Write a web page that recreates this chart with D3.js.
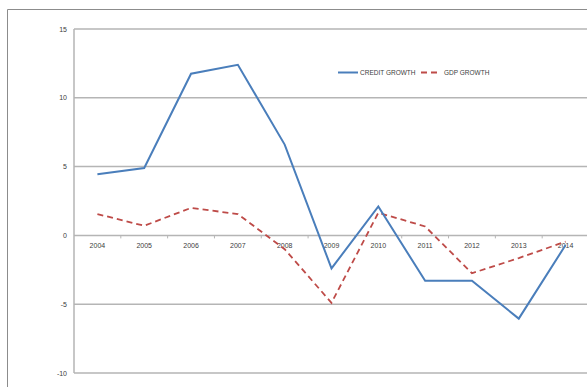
<!DOCTYPE html>
<html>
<head>
<meta charset="utf-8">
<script src="https://cdn.jsdelivr.net/npm/d3@7"></script>
<style>
  body { margin: 0; background: #fff; }
  svg { display: block; font-family: "Liberation Sans", Arial, sans-serif; }
</style>
</head>
<body>
<svg width="587" height="387"></svg>
<script>
// chart data
const years = ["2004", "2005", "2006", "2007", "2008", "2009", "2010", "2011", "2012", "2013", "2014"];
const creditGrowth = [4.45, 4.9, 11.75, 12.4, 6.6, -2.4, 2.1, -3.3, -3.3, -6.05, -0.7];
const gdpGrowth = [1.55, 0.7, 2.0, 1.55, -1.0, -4.9, 1.65, 0.65, -2.75, -1.65, -0.45];
const yTicks = [-10, -5, 0, 5, 10, 15];

const svg = d3.select("svg");

// outer chart frame (runs off the right and bottom of the picture)
svg.append("path")
    .attr("d", "M7.5,400 L7.5,9.5 L600,9.5")
    .attr("fill", "none")
    .attr("stroke", "#8c8c8c")
    .attr("stroke-width", 1);

const x = d3.scaleBand().domain(years).range([74, 589]).padding(0);
const y = d3.scaleLinear().domain([-10, 15]).range([373, 29]);
const cx = d => x(d) + x.bandwidth() / 2;

// horizontal gridlines
svg.append("g")
    .selectAll("line")
    .data(yTicks)
    .join("line")
    .attr("x1", 74)
    .attr("x2", 600)
    .attr("y1", d => y(d))
    .attr("y2", d => y(d))
    .attr("stroke", "#b5b5b5")
    .attr("stroke-width", 1.5);

// vertical axis line
svg.append("line")
    .attr("x1", 74).attr("x2", 74)
    .attr("y1", y(15)).attr("y2", y(-10))
    .attr("stroke", "#b5b5b5")
    .attr("stroke-width", 1.5);

// y tick labels
svg.append("g")
    .selectAll("text")
    .data(yTicks)
    .join("text")
    .attr("x", 67)
    .attr("y", d => y(d) + 2.5)
    .attr("text-anchor", "end")
    .attr("font-size", "7px")
    .attr("fill", "#404040")
    .text(d => d);

// category tick marks on the zero line
svg.append("g")
    .selectAll("line")
    .data(years.slice(1))
    .join("line")
    .attr("x1", d => x(d))
    .attr("x2", d => x(d))
    .attr("y1", y(0))
    .attr("y2", y(0) + 3)
    .attr("stroke", "#b5b5b5")
    .attr("stroke-width", 1);

// x labels sit just under the zero line
svg.append("g")
    .selectAll("text")
    .data(years)
    .join("text")
    .attr("x", d => cx(d))
    .attr("y", y(0) + 13)
    .attr("text-anchor", "middle")
    .attr("font-size", "7px")
    .attr("fill", "#404040")
    .text(d => d);

const line = d3.line()
    .x((d, i) => cx(years[i]))
    .y(d => y(d));

svg.append("path")
    .datum(gdpGrowth)
    .attr("d", line)
    .attr("fill", "none")
    .attr("stroke", "#be4b48")
    .attr("stroke-width", 1.8)
    .attr("stroke-dasharray", "6,4");

svg.append("path")
    .datum(creditGrowth)
    .attr("d", line)
    .attr("fill", "none")
    .attr("stroke", "#4a7ebb")
    .attr("stroke-width", 2);

// legend
const legend = svg.append("g").attr("font-size", "6.5px").attr("fill", "#404040");
legend.append("line")
    .attr("x1", 338).attr("x2", 358).attr("y1", 72.5).attr("y2", 72.5)
    .attr("stroke", "#4a7ebb").attr("stroke-width", 2);
legend.append("text").attr("x", 360).attr("y", 75).text("CREDIT GROWTH");
legend.append("line")
    .attr("x1", 421).attr("x2", 441).attr("y1", 72.5).attr("y2", 72.5)
    .attr("stroke", "#be4b48").attr("stroke-width", 1.8)
    .attr("stroke-dasharray", "6,4");
legend.append("text").attr("x", 444).attr("y", 75).text("GDP GROWTH");
</script>
</body>
</html>
